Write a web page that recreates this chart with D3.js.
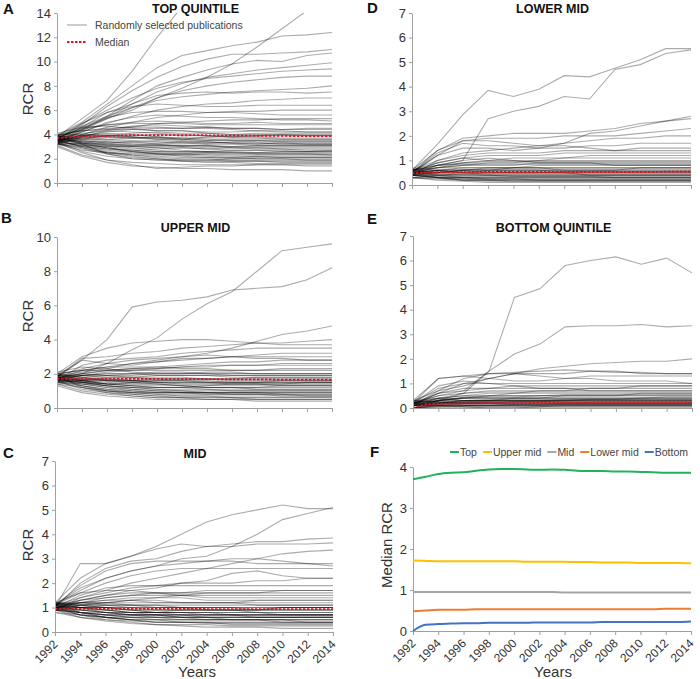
<!DOCTYPE html>
<html>
<head>
<meta charset="utf-8">
<script src="https://cdn.jsdelivr.net/npm/d3@7"></script>
<style>
  body { margin: 0; background: #fff; }
  svg { font-family: "Liberation Sans", Arial, sans-serif; }
</style>
</head>
<body>
<div id="chart"></div>
<script>
// years
let allYears = [1992, 1993, 1994, 1995, 1996, 1997, 1998, 1999, 2000, 2001, 2002, 2003, 2004, 2005, 2006, 2007, 2008, 2009, 2010, 2011, 2012, 2013, 2014];
let tickYears = [1992, 1994, 1996, 1998, 2000, 2002, 2004, 2006, 2008, 2010, 2012, 2014];

// medians (panel F and red dashed lines)
let medianTop = [3.70, 3.76, 3.83, 3.86, 3.87, 3.91, 3.94, 3.95, 3.95, 3.94, 3.93, 3.94, 3.93, 3.91, 3.90, 3.90, 3.89, 3.89, 3.88, 3.87, 3.86, 3.86, 3.86];
let medianUpper = [1.72, 1.71, 1.70, 1.70, 1.70, 1.70, 1.70, 1.70, 1.70, 1.69, 1.69, 1.69, 1.69, 1.68, 1.68, 1.67, 1.67, 1.67, 1.66, 1.66, 1.66, 1.66, 1.65];
let medianMid = [0.95, 0.95, 0.95, 0.95, 0.95, 0.95, 0.95, 0.95, 0.95, 0.95, 0.95, 0.95, 0.94, 0.94, 0.94, 0.94, 0.94, 0.94, 0.94, 0.94, 0.94, 0.94, 0.94];
let medianLower = [0.48, 0.50, 0.52, 0.52, 0.52, 0.53, 0.53, 0.53, 0.53, 0.53, 0.53, 0.53, 0.53, 0.53, 0.53, 0.53, 0.53, 0.53, 0.53, 0.53, 0.54, 0.54, 0.54];
let medianBottom = [0.00, 0.15, 0.17, 0.18, 0.19, 0.19, 0.20, 0.20, 0.20, 0.20, 0.21, 0.21, 0.21, 0.21, 0.21, 0.22, 0.22, 0.22, 0.22, 0.22, 0.22, 0.22, 0.23];

// randomly selected publications, values at tickYears
let topLines = [
  [3.8, 5.3, 6.8, 9.2, 12.0, 14.5, 16.0, 17.0, 18.0, 19.0, 20.0, 21.0],
  [3.7, 4.5, 5.3, 6.0, 7.0, 7.8, 8.7, 9.8, 11.2, 12.7, 14.2, 15.5],
  [3.9, 5.0, 6.5, 8.0, 9.5, 10.5, 10.9, 11.3, 11.6, 12.1, 12.2, 12.4],
  [3.6, 4.8, 6.3, 7.6, 8.7, 9.6, 10.2, 10.6, 10.6, 10.7, 10.8, 11.0],
  [3.4, 4.4, 5.5, 6.8, 8.0, 8.7, 9.3, 9.8, 10.1, 10.0, 10.5, 10.7],
  [3.5, 4.6, 5.8, 6.5, 7.5, 8.2, 8.7, 9.0, 9.3, 9.5, 9.7, 9.9],
  [3.6, 4.9, 6.0, 7.0, 7.8, 8.3, 8.6, 8.8, 9.0, 9.2, 9.3, 9.4],
  [3.3, 4.3, 5.3, 6.2, 7.0, 7.6, 8.0, 8.3, 8.5, 8.7, 8.8, 8.8],
  [3.7, 4.7, 5.5, 6.2, 6.8, 7.1, 7.3, 7.5, 7.6, 7.7, 7.8, 8.0],
  [3.5, 4.4, 5.4, 6.5, 7.2, 7.4, 7.5, 7.4, 7.5, 7.5, 7.4, 7.5],
  [3.4, 4.2, 4.9, 5.5, 6.0, 6.3, 6.5, 6.6, 6.8, 6.9, 7.0, 7.0],
  [3.8, 4.9, 5.8, 6.3, 6.5, 6.4, 6.3, 6.3, 6.4, 6.4, 6.4, 6.4],
  [3.3, 4.0, 4.6, 5.0, 5.4, 5.6, 5.8, 5.9, 5.9, 6.0, 6.0, 6.0],
  [3.6, 4.6, 5.4, 5.8, 5.9, 5.9, 5.8, 5.8, 5.7, 5.6, 5.6, 5.6],
  [3.2, 3.8, 4.3, 4.6, 4.9, 5.0, 5.1, 5.2, 5.2, 5.3, 5.3, 5.3],
  [3.7, 4.5, 4.8, 4.9, 4.9, 4.9, 4.8, 4.8, 4.8, 4.8, 4.8, 4.8],
  [3.4, 3.9, 4.2, 4.4, 4.5, 4.5, 4.6, 4.5, 4.5, 4.4, 4.5, 4.5],
  [3.9, 4.3, 4.4, 4.4, 4.3, 4.3, 4.2, 4.2, 4.3, 4.2, 4.2, 4.2],
  [3.5, 3.8, 3.9, 3.9, 4.0, 3.9, 3.9, 3.8, 3.9, 3.9, 3.9, 3.9],
  [3.7, 3.6, 3.6, 3.7, 3.6, 3.6, 3.5, 3.6, 3.6, 3.6, 3.6, 3.6],
  [3.6, 3.4, 3.4, 3.3, 3.3, 3.4, 3.3, 3.3, 3.2, 3.3, 3.3, 3.3],
  [3.3, 3.1, 3.0, 3.0, 3.1, 3.1, 3.1, 3.0, 3.1, 3.1, 3.1, 3.1],
  [3.8, 3.4, 3.1, 3.0, 2.9, 2.9, 2.8, 2.9, 2.9, 2.9, 2.9, 2.9],
  [3.5, 3.0, 2.8, 2.7, 2.6, 2.6, 2.6, 2.6, 2.5, 2.6, 2.6, 2.6],
  [3.2, 2.7, 2.5, 2.4, 2.3, 2.3, 2.4, 2.3, 2.3, 2.3, 2.3, 2.3],
  [3.6, 2.9, 2.5, 2.3, 2.2, 2.1, 2.1, 2.1, 2.2, 2.1, 2.1, 2.1],
  [3.4, 2.6, 2.2, 2.0, 1.9, 1.8, 1.8, 1.8, 1.8, 1.8, 1.8, 1.8],
  [3.1, 2.3, 1.9, 1.7, 1.6, 1.5, 1.5, 1.5, 1.5, 1.5, 1.5, 1.5],
  [3.3, 2.5, 1.9, 1.5, 1.2, 1.3, 1.4, 1.4, 1.5, 1.5, 1.4, 1.4],
  [3.0, 2.2, 1.7, 1.4, 1.3, 1.2, 1.2, 1.1, 1.1, 1.1, 1.0, 1.0],
  [3.9, 3.5, 3.3, 3.4, 3.2, 3.0, 3.1, 2.9, 2.8, 2.8, 2.7, 2.7],
  [3.4, 3.2, 2.9, 2.6, 2.5, 2.4, 2.5, 2.5, 2.4, 2.4, 2.4, 2.4],
  [4.1, 4.6, 4.7, 4.5, 4.3, 4.3, 4.1, 4.0, 4.0, 4.0, 3.9, 3.9],
  [3.6, 3.9, 4.1, 4.0, 3.8, 3.6, 3.5, 3.5, 3.4, 3.4, 3.4, 3.4],
  [3.3, 3.7, 3.8, 3.7, 3.7, 3.6, 3.8, 3.9, 3.9, 4.0, 4.0, 4.0],
  [3.7, 3.3, 3.0, 2.8, 2.8, 2.9, 2.8, 2.7, 2.7, 2.7, 2.6, 2.6],
  [3.5, 4.2, 5.0, 5.4, 5.6, 5.5, 5.4, 5.4, 5.3, 5.2, 5.2, 5.1],
  [3.8, 3.2, 2.4, 2.0, 1.9, 1.9, 1.9, 2.0, 2.0, 2.0, 2.0, 2.0],
  [3.2, 2.9, 2.5, 2.2, 2.0, 1.8, 1.7, 1.7, 1.6, 1.6, 1.6, 1.6],
  [3.6, 4.0, 4.4, 4.7, 4.8, 4.7, 4.6, 4.5, 4.5, 4.4, 4.4, 4.4],
  [3.5, 3.7, 3.5, 3.4, 3.5, 3.4, 3.4, 3.3, 3.3, 3.3, 3.2, 3.2],
  [3.8, 3.9, 3.8, 3.7, 3.8, 3.7, 3.7, 3.7, 3.7, 3.6, 3.6, 3.6],
  [3.2, 3.0, 2.7, 2.5, 2.4, 2.4, 2.3, 2.2, 2.2, 2.2, 2.2, 2.2],
  [3.6, 3.2, 2.9, 2.7, 2.6, 2.5, 2.5, 2.4, 2.4, 2.4, 2.4, 2.3],
  [4.0, 4.3, 4.5, 4.6, 4.6, 4.5, 4.5, 4.4, 4.3, 4.3, 4.2, 4.2],
  [3.4, 3.5, 3.3, 3.1, 3.0, 3.0, 2.9, 2.9, 2.9, 2.8, 2.8, 2.8],
  [3.7, 4.1, 4.3, 4.2, 4.1, 4.0, 3.9, 3.8, 3.8, 3.7, 3.7, 3.7],
  [3.3, 2.8, 2.4, 2.1, 2.0, 1.9, 1.9, 1.8, 1.8, 1.7, 1.7, 1.7],
  [3.9, 3.6, 3.4, 3.2, 3.1, 3.1, 3.0, 3.0, 3.0, 3.0, 3.0, 3.0],
  [3.5, 3.0, 2.6, 2.3, 2.1, 2.0, 2.0, 1.9, 1.9, 1.9, 1.9, 1.9],
  [3.6, 3.8, 3.6, 3.5, 3.4, 3.3, 3.2, 3.2, 3.1, 3.1, 3.1, 3.1],
  [3.8, 4.4, 4.8, 5.0, 5.1, 5.0, 4.9, 4.9, 5.0, 4.9, 4.9, 4.9],
  [3.2, 3.3, 3.2, 3.0, 2.9, 2.7, 2.6, 2.5, 2.5, 2.5, 2.5, 2.5],
  [3.7, 3.4, 3.2, 3.1, 3.2, 3.3, 3.3, 3.4, 3.5, 3.5, 3.5, 3.5],
  [3.4, 3.1, 2.8, 2.6, 2.4, 2.3, 2.2, 2.1, 2.0, 2.0, 1.9, 1.9],
  [4.0, 4.0, 3.9, 3.8, 3.7, 3.7, 3.6, 3.5, 3.5, 3.4, 3.4, 3.4],
  [3.6, 3.3, 3.1, 2.9, 2.7, 2.6, 2.6, 2.7, 2.7, 2.6, 2.6, 2.7],
  [3.3, 3.6, 3.9, 4.1, 4.2, 4.1, 4.1, 4.0, 4.1, 4.1, 4.1, 4.1],
  [3.9, 3.3, 2.9, 2.6, 2.4, 2.2, 2.1, 2.0, 2.1, 2.1, 2.1, 2.1],
  [3.5, 3.9, 4.0, 3.8, 3.6, 3.5, 3.4, 3.3, 3.3, 3.2, 3.2, 3.2]
];

let upperLines = [
  [1.8, 2.8, 4.0, 5.9, 6.2, 6.3, 6.5, 6.9, 7.0, 7.1, 7.5, 8.2],
  [1.7, 2.0, 2.6, 3.4, 4.1, 5.2, 6.1, 6.8, 8.0, 9.2, 9.4, 9.6],
  [1.9, 2.3, 2.6, 2.8, 2.9, 3.0, 3.2, 3.5, 3.9, 4.3, 4.5, 4.8],
  [2.0, 3.0, 3.5, 3.8, 3.9, 4.0, 4.0, 3.9, 3.8, 3.8, 3.9, 4.0],
  [1.8, 2.9, 3.0, 3.2, 3.3, 3.5, 3.6, 3.7, 3.8, 3.7, 3.7, 3.7],
  [1.6, 2.5, 2.8, 2.9, 3.0, 3.2, 3.3, 3.4, 3.5, 3.5, 3.5, 3.5],
  [1.9, 2.8, 2.6, 2.5, 2.7, 2.8, 2.9, 3.0, 3.1, 3.2, 3.2, 3.2],
  [1.7, 2.2, 2.4, 2.6, 2.7, 2.9, 2.9, 3.0, 3.0, 3.0, 3.0, 3.0],
  [1.8, 2.0, 2.2, 2.3, 2.4, 2.5, 2.6, 2.7, 2.7, 2.8, 2.8, 2.8],
  [1.6, 1.9, 2.1, 2.2, 2.3, 2.4, 2.4, 2.5, 2.5, 2.5, 2.5, 2.5],
  [2.0, 2.2, 2.2, 2.2, 2.2, 2.2, 2.2, 2.2, 2.2, 2.3, 2.3, 2.3],
  [1.7, 1.9, 2.0, 2.0, 2.0, 2.0, 2.0, 2.0, 2.0, 2.0, 2.0, 2.0],
  [1.9, 1.9, 1.8, 1.8, 1.9, 1.9, 1.9, 1.8, 1.8, 1.8, 1.8, 1.8],
  [1.5, 1.6, 1.7, 1.7, 1.7, 1.7, 1.7, 1.7, 1.7, 1.7, 1.7, 1.7],
  [1.8, 1.7, 1.6, 1.6, 1.5, 1.5, 1.5, 1.5, 1.5, 1.5, 1.5, 1.5],
  [1.6, 1.5, 1.4, 1.4, 1.4, 1.3, 1.3, 1.3, 1.3, 1.3, 1.3, 1.3],
  [2.0, 1.6, 1.4, 1.3, 1.2, 1.2, 1.2, 1.2, 1.1, 1.1, 1.1, 1.1],
  [1.7, 1.4, 1.2, 1.1, 1.0, 1.0, 1.0, 1.0, 1.0, 1.0, 1.0, 1.0],
  [1.5, 1.2, 1.0, 0.9, 0.9, 0.9, 0.9, 0.9, 0.9, 0.9, 0.9, 0.9],
  [1.8, 1.3, 1.0, 0.9, 0.8, 0.8, 0.8, 0.8, 0.8, 0.8, 0.8, 0.8],
  [1.6, 1.1, 0.9, 0.8, 0.7, 0.7, 0.7, 0.7, 0.7, 0.7, 0.7, 0.7],
  [1.4, 1.0, 0.8, 0.7, 0.6, 0.6, 0.6, 0.6, 0.6, 0.6, 0.6, 0.6],
  [1.9, 1.2, 0.9, 0.7, 0.6, 0.6, 0.5, 0.5, 0.5, 0.5, 0.5, 0.5],
  [1.3, 0.9, 0.7, 0.6, 0.5, 0.5, 0.5, 0.5, 0.4, 0.4, 0.4, 0.4],
  [1.7, 1.8, 1.9, 2.0, 2.1, 2.1, 2.0, 1.9, 1.9, 1.9, 1.9, 1.9],
  [1.9, 2.1, 2.3, 2.6, 2.8, 3.0, 3.1, 3.0, 2.9, 2.9, 2.8, 2.8],
  [1.8, 1.6, 1.4, 1.5, 1.6, 1.6, 1.6, 1.5, 1.5, 1.6, 1.6, 1.6],
  [1.6, 1.5, 1.3, 1.1, 1.0, 0.9, 0.9, 0.8, 0.8, 0.7, 0.7, 0.7],
  [2.1, 2.4, 2.3, 2.1, 2.0, 2.0, 2.1, 2.1, 2.0, 2.0, 2.0, 2.0],
  [1.7, 1.5, 1.3, 1.2, 1.2, 1.2, 1.3, 1.4, 1.4, 1.4, 1.4, 1.4],
  [1.7, 1.6, 1.5, 1.4, 1.4, 1.4, 1.4, 1.4, 1.4, 1.3, 1.3, 1.3],
  [1.8, 1.5, 1.3, 1.2, 1.1, 1.1, 1.1, 1.0, 1.0, 1.0, 1.0, 1.0],
  [1.6, 1.7, 1.8, 1.8, 1.8, 1.8, 1.7, 1.7, 1.7, 1.7, 1.7, 1.7],
  [1.9, 1.8, 1.7, 1.6, 1.6, 1.6, 1.5, 1.5, 1.5, 1.5, 1.5, 1.5],
  [1.5, 1.3, 1.1, 1.0, 0.9, 0.9, 0.8, 0.8, 0.8, 0.8, 0.7, 0.7],
  [1.7, 1.9, 2.0, 2.0, 1.9, 1.9, 1.9, 1.9, 1.9, 1.9, 1.9, 1.9],
  [2.0, 1.8, 1.6, 1.5, 1.4, 1.3, 1.2, 1.2, 1.2, 1.2, 1.2, 1.2],
  [1.6, 1.3, 1.1, 0.9, 0.8, 0.7, 0.7, 0.6, 0.6, 0.6, 0.6, 0.6],
  [1.8, 2.0, 2.2, 2.3, 2.3, 2.4, 2.5, 2.5, 2.5, 2.6, 2.6, 2.6],
  [1.7, 1.5, 1.4, 1.3, 1.2, 1.2, 1.1, 1.1, 1.1, 1.1, 1.1, 1.1],
  [1.9, 1.7, 1.6, 1.6, 1.7, 1.7, 1.7, 1.6, 1.6, 1.6, 1.6, 1.6],
  [1.5, 1.4, 1.3, 1.2, 1.1, 1.0, 0.9, 0.9, 0.9, 0.8, 0.8, 0.8],
  [1.8, 1.9, 1.9, 1.9, 2.0, 2.0, 2.0, 2.0, 2.0, 2.0, 2.0, 2.0],
  [1.6, 1.4, 1.2, 1.0, 0.9, 0.9, 0.9, 0.9, 0.9, 0.9, 0.9, 0.9],
  [2.0, 2.2, 2.4, 2.4, 2.4, 2.3, 2.3, 2.2, 2.2, 2.2, 2.2, 2.2],
  [1.7, 1.6, 1.6, 1.5, 1.5, 1.4, 1.4, 1.4, 1.4, 1.4, 1.4, 1.4],
  [1.4, 1.2, 1.0, 0.8, 0.7, 0.6, 0.6, 0.6, 0.5, 0.5, 0.5, 0.5],
  [1.8, 1.6, 1.4, 1.3, 1.3, 1.3, 1.2, 1.2, 1.2, 1.3, 1.3, 1.3],
  [1.9, 2.0, 1.9, 1.8, 1.7, 1.7, 1.7, 1.7, 1.8, 1.8, 1.8, 1.8],
  [1.6, 1.7, 1.7, 1.6, 1.5, 1.5, 1.5, 1.4, 1.4, 1.4, 1.5, 1.5]
];

let midLines = [
  [1.0, 2.8, 2.8, 3.1, 3.5, 4.0, 4.5, 4.8, 5.0, 5.2, 5.05, 5.05],
  [1.1, 1.8, 2.2, 2.5, 2.7, 3.0, 3.1, 3.5, 4.0, 4.6, 4.85, 5.1],
  [1.0, 2.0, 2.6, 2.9, 3.0, 3.3, 3.5, 3.6, 3.7, 3.7, 3.8, 3.85],
  [1.2, 2.2, 2.8, 3.1, 3.4, 3.6, 3.5, 3.5, 3.6, 3.6, 3.6, 3.65],
  [0.9, 1.4, 1.7, 2.0, 2.2, 2.4, 2.6, 2.8, 3.0, 3.2, 3.3, 3.35],
  [1.1, 1.9, 2.5, 2.8, 2.9, 2.9, 2.9, 2.9, 2.8, 2.8, 2.8, 2.8],
  [1.0, 1.3, 1.5, 1.7, 1.8, 2.0, 2.1, 2.4, 2.5, 2.3, 2.2, 2.2],
  [1.1, 1.6, 2.0, 2.3, 2.5, 2.6, 2.6, 2.6, 2.6, 2.6, 2.6, 2.6],
  [1.0, 1.5, 1.8, 1.9, 1.9, 1.9, 1.9, 1.9, 1.9, 1.9, 1.9, 1.9],
  [0.9, 1.3, 1.5, 1.6, 1.6, 1.6, 1.7, 1.7, 1.7, 1.7, 1.7, 1.7],
  [1.2, 1.6, 1.7, 1.7, 1.6, 1.5, 1.5, 1.5, 1.5, 1.5, 1.5, 1.5],
  [1.0, 1.2, 1.3, 1.4, 1.4, 1.4, 1.3, 1.3, 1.3, 1.3, 1.3, 1.3],
  [1.1, 1.2, 1.2, 1.2, 1.2, 1.2, 1.2, 1.2, 1.2, 1.2, 1.2, 1.2],
  [0.9, 1.0, 1.1, 1.1, 1.1, 1.1, 1.1, 1.1, 1.1, 1.1, 1.1, 1.1],
  [1.0, 1.0, 1.0, 1.0, 1.0, 1.0, 1.0, 1.0, 1.0, 1.0, 1.0, 1.0],
  [1.2, 1.0, 0.9, 0.9, 0.9, 0.9, 0.9, 0.9, 0.9, 0.9, 0.9, 0.9],
  [1.0, 0.9, 0.8, 0.8, 0.8, 0.8, 0.8, 0.8, 0.8, 0.8, 0.8, 0.8],
  [0.9, 0.8, 0.7, 0.7, 0.7, 0.7, 0.7, 0.7, 0.7, 0.7, 0.7, 0.7],
  [1.1, 0.8, 0.7, 0.6, 0.6, 0.6, 0.6, 0.6, 0.6, 0.6, 0.6, 0.6],
  [1.0, 0.7, 0.6, 0.5, 0.5, 0.5, 0.5, 0.5, 0.5, 0.5, 0.5, 0.5],
  [0.8, 0.6, 0.5, 0.45, 0.4, 0.4, 0.4, 0.4, 0.4, 0.4, 0.4, 0.4],
  [1.2, 0.8, 0.6, 0.5, 0.4, 0.4, 0.35, 0.35, 0.35, 0.35, 0.35, 0.35],
  [0.9, 0.6, 0.45, 0.35, 0.3, 0.3, 0.3, 0.25, 0.25, 0.25, 0.25, 0.25],
  [1.0, 0.7, 0.5, 0.4, 0.3, 0.25, 0.2, 0.2, 0.2, 0.15, 0.15, 0.15],
  [1.1, 1.4, 1.6, 1.8, 1.9, 2.0, 2.0, 2.0, 2.1, 2.1, 2.2, 2.2],
  [1.0, 1.1, 1.2, 1.3, 1.4, 1.5, 1.6, 1.6, 1.6, 1.7, 1.7, 1.7],
  [1.2, 1.1, 1.0, 0.9, 0.8, 0.8, 0.8, 0.7, 0.7, 0.7, 0.7, 0.7],
  [0.9, 1.1, 1.2, 1.1, 1.0, 1.0, 1.0, 1.0, 0.9, 1.0, 1.0, 1.0],
  [1.1, 1.7, 2.2, 2.5, 2.7, 2.8, 2.9, 3.0, 3.0, 2.9, 2.8, 2.7],
  [1.0, 1.0, 0.9, 0.8, 0.7, 0.6, 0.6, 0.5, 0.5, 0.5, 0.5, 0.5],
  [1.0, 0.9, 0.9, 0.8, 0.8, 0.8, 0.7, 0.7, 0.7, 0.7, 0.7, 0.7],
  [1.1, 1.0, 1.0, 0.9, 0.9, 0.9, 0.9, 0.9, 0.8, 0.8, 0.8, 0.8],
  [0.9, 0.8, 0.7, 0.6, 0.6, 0.5, 0.5, 0.5, 0.5, 0.4, 0.4, 0.4],
  [1.2, 1.2, 1.1, 1.1, 1.1, 1.0, 1.0, 1.0, 1.0, 1.0, 1.0, 1.0],
  [1.0, 1.2, 1.3, 1.3, 1.3, 1.2, 1.2, 1.2, 1.1, 1.1, 1.1, 1.1],
  [0.9, 0.7, 0.6, 0.6, 0.5, 0.5, 0.5, 0.5, 0.5, 0.5, 0.5, 0.5],
  [1.1, 0.9, 0.8, 0.7, 0.7, 0.7, 0.6, 0.6, 0.6, 0.6, 0.6, 0.6],
  [1.0, 1.1, 1.1, 1.0, 1.0, 1.0, 0.9, 0.9, 0.9, 0.9, 0.9, 0.9],
  [1.2, 1.0, 0.8, 0.7, 0.6, 0.6, 0.5, 0.5, 0.5, 0.5, 0.4, 0.4],
  [0.8, 0.7, 0.6, 0.5, 0.4, 0.4, 0.4, 0.3, 0.3, 0.3, 0.3, 0.3],
  [1.1, 1.3, 1.4, 1.5, 1.5, 1.5, 1.4, 1.4, 1.4, 1.4, 1.4, 1.4],
  [1.0, 0.8, 0.7, 0.7, 0.7, 0.6, 0.6, 0.6, 0.6, 0.6, 0.6, 0.6],
  [0.9, 1.0, 1.0, 1.0, 0.9, 0.9, 0.9, 0.9, 0.9, 0.9, 0.9, 0.9],
  [1.1, 1.0, 0.9, 0.8, 0.8, 0.8, 0.8, 0.8, 0.8, 0.7, 0.7, 0.7],
  [1.0, 1.2, 1.4, 1.5, 1.6, 1.6, 1.6, 1.6, 1.6, 1.6, 1.6, 1.6],
  [1.2, 1.1, 1.0, 0.9, 0.8, 0.7, 0.7, 0.7, 0.6, 0.6, 0.6, 0.6],
  [0.9, 0.9, 0.8, 0.8, 0.8, 0.9, 0.9, 0.9, 0.9, 1.0, 1.0, 1.0],
  [1.0, 0.8, 0.6, 0.5, 0.5, 0.4, 0.4, 0.4, 0.4, 0.4, 0.4, 0.4],
  [1.1, 1.2, 1.2, 1.3, 1.2, 1.2, 1.2, 1.2, 1.3, 1.3, 1.3, 1.3],
  [0.9, 0.8, 0.8, 0.7, 0.7, 0.7, 0.7, 0.7, 0.7, 0.7, 0.7, 0.7]
];

let lowerLines = [
  [0.6, 1.65, 2.85, 3.85, 3.6, 3.9, 4.45, 4.4, 4.75, 5.1, 5.55, 5.55],
  [0.5, 0.8, 1.0, 2.7, 3.0, 3.2, 3.6, 3.5, 4.7, 4.9, 5.35, 5.5],
  [0.5, 1.3, 1.7, 1.6, 1.6, 1.5, 1.7, 2.1, 2.2, 2.4, 2.6, 2.8],
  [0.6, 1.4, 1.9, 2.0, 2.1, 2.1, 2.1, 2.2, 2.3, 2.5, 2.6, 2.7],
  [0.5, 1.2, 1.8, 1.9, 1.9, 1.9, 2.0, 2.0, 2.0, 2.1, 2.2, 2.3],
  [0.4, 1.0, 1.3, 1.4, 1.5, 1.6, 1.7, 1.8, 1.9, 1.9, 2.0, 2.0],
  [0.5, 1.2, 1.5, 1.5, 1.4, 1.5, 1.5, 1.6, 1.6, 1.7, 1.7, 1.7],
  [0.6, 1.0, 1.2, 1.3, 1.3, 1.3, 1.4, 1.4, 1.4, 1.5, 1.5, 1.5],
  [0.5, 0.9, 1.1, 1.2, 1.2, 1.2, 1.3, 1.3, 1.3, 1.3, 1.3, 1.3],
  [0.4, 0.8, 0.9, 1.0, 1.1, 1.1, 1.1, 1.2, 1.2, 1.2, 1.2, 1.2],
  [0.5, 0.7, 0.8, 0.9, 0.9, 1.0, 1.0, 1.0, 1.0, 1.0, 1.0, 1.0],
  [0.6, 0.7, 0.8, 0.8, 0.8, 0.9, 0.9, 0.9, 0.9, 0.9, 0.9, 0.9],
  [0.5, 0.6, 0.7, 0.7, 0.7, 0.8, 0.8, 0.8, 0.8, 0.8, 0.8, 0.8],
  [0.4, 0.6, 0.6, 0.7, 0.7, 0.7, 0.7, 0.7, 0.7, 0.7, 0.7, 0.7],
  [0.5, 0.5, 0.6, 0.6, 0.6, 0.6, 0.6, 0.6, 0.6, 0.6, 0.6, 0.6],
  [0.6, 0.5, 0.5, 0.5, 0.5, 0.5, 0.5, 0.5, 0.5, 0.5, 0.5, 0.5],
  [0.4, 0.4, 0.4, 0.4, 0.4, 0.4, 0.4, 0.4, 0.4, 0.4, 0.4, 0.4],
  [0.5, 0.4, 0.35, 0.35, 0.35, 0.35, 0.35, 0.35, 0.3, 0.3, 0.3, 0.3],
  [0.3, 0.3, 0.3, 0.25, 0.25, 0.25, 0.25, 0.25, 0.25, 0.25, 0.25, 0.25],
  [0.4, 0.3, 0.25, 0.2, 0.2, 0.2, 0.2, 0.2, 0.2, 0.2, 0.2, 0.2],
  [0.5, 0.3, 0.2, 0.2, 0.15, 0.15, 0.15, 0.15, 0.15, 0.15, 0.15, 0.15],
  [0.3, 0.2, 0.15, 0.1, 0.1, 0.1, 0.1, 0.1, 0.1, 0.1, 0.1, 0.1],
  [0.6, 0.8, 1.0, 1.1, 1.0, 0.9, 0.9, 0.9, 0.8, 0.8, 0.8, 0.8],
  [0.5, 0.6, 0.5, 0.6, 0.7, 0.7, 0.6, 0.6, 0.6, 0.7, 0.7, 0.7],
  [0.4, 0.5, 0.6, 0.5, 0.5, 0.5, 0.5, 0.4, 0.4, 0.4, 0.4, 0.4],
  [0.6, 0.9, 1.1, 1.0, 1.0, 1.0, 1.1, 1.1, 1.1, 1.1, 1.1, 1.1],
  [0.5, 1.4, 1.8, 1.8, 1.7, 1.6, 1.6, 1.5, 1.4, 1.4, 1.4, 1.4],
  [0.4, 0.3, 0.3, 0.3, 0.3, 0.3, 0.3, 0.3, 0.3, 0.3, 0.3, 0.3],
  [0.5, 0.5, 0.5, 0.5, 0.5, 0.5, 0.5, 0.5, 0.5, 0.5, 0.5, 0.5],
  [0.6, 0.6, 0.6, 0.6, 0.6, 0.6, 0.6, 0.6, 0.6, 0.6, 0.6, 0.6],
  [0.4, 0.35, 0.3, 0.3, 0.3, 0.3, 0.3, 0.3, 0.3, 0.3, 0.3, 0.3],
  [0.5, 0.45, 0.4, 0.4, 0.4, 0.4, 0.4, 0.4, 0.4, 0.4, 0.4, 0.4],
  [0.6, 0.7, 0.7, 0.7, 0.7, 0.7, 0.7, 0.7, 0.7, 0.7, 0.7, 0.7],
  [0.3, 0.25, 0.2, 0.2, 0.2, 0.2, 0.2, 0.2, 0.2, 0.2, 0.2, 0.2],
  [0.5, 0.55, 0.55, 0.55, 0.55, 0.55, 0.55, 0.55, 0.55, 0.55, 0.55, 0.55],
  [0.7, 0.6, 0.5, 0.45, 0.45, 0.45, 0.45, 0.45, 0.45, 0.45, 0.45, 0.45],
  [0.4, 0.5, 0.6, 0.65, 0.65, 0.65, 0.65, 0.65, 0.65, 0.65, 0.65, 0.65],
  [0.5, 0.4, 0.3, 0.25, 0.25, 0.2, 0.2, 0.2, 0.2, 0.2, 0.2, 0.2],
  [0.6, 0.8, 0.85, 0.85, 0.85, 0.85, 0.85, 0.85, 0.85, 0.85, 0.85, 0.85],
  [0.4, 0.3, 0.2, 0.15, 0.15, 0.15, 0.15, 0.15, 0.15, 0.15, 0.15, 0.15],
  [0.5, 0.6, 0.65, 0.6, 0.6, 0.6, 0.55, 0.55, 0.55, 0.55, 0.55, 0.55],
  [0.6, 0.5, 0.45, 0.4, 0.35, 0.35, 0.35, 0.35, 0.35, 0.35, 0.35, 0.35],
  [0.3, 0.4, 0.45, 0.5, 0.5, 0.5, 0.5, 0.5, 0.5, 0.5, 0.5, 0.5],
  [0.5, 0.7, 0.9, 0.95, 0.95, 0.95, 0.95, 0.95, 0.95, 0.95, 0.95, 0.95]
];

let bottomLines = [
  [0.15, 0.6, 0.7, 1.5, 4.5, 4.85, 5.8, 6.0, 6.15, 5.85, 6.1, 5.5],
  [0.1, 0.3, 0.6, 1.5, 2.2, 2.6, 3.3, 3.35, 3.35, 3.4, 3.3, 3.35],
  [0.2, 0.6, 1.0, 1.2, 1.4, 1.6, 1.7, 1.8, 1.85, 1.9, 1.9, 2.0],
  [0.2, 1.2, 1.3, 1.4, 1.45, 1.5, 1.55, 1.5, 1.45, 1.45, 1.4, 1.4],
  [0.3, 1.2, 1.3, 1.2, 1.1, 1.1, 1.2, 1.3, 1.3, 1.3, 1.3, 1.3],
  [0.1, 0.7, 1.2, 1.4, 1.4, 1.3, 1.2, 1.2, 1.1, 1.1, 1.1, 1.0],
  [0.2, 0.8, 1.0, 1.0, 1.0, 1.0, 1.0, 1.0, 1.0, 1.0, 1.0, 1.0],
  [0.1, 0.6, 0.8, 0.8, 0.9, 0.9, 0.9, 0.9, 0.9, 0.9, 0.9, 0.9],
  [0.2, 0.5, 0.7, 0.8, 0.8, 0.8, 0.8, 0.8, 0.8, 0.8, 0.8, 0.8],
  [0.1, 0.4, 0.6, 0.7, 0.7, 0.7, 0.7, 0.7, 0.7, 0.7, 0.7, 0.7],
  [0.2, 0.4, 0.5, 0.6, 0.6, 0.6, 0.6, 0.6, 0.6, 0.6, 0.6, 0.6],
  [0.0, 0.3, 0.4, 0.5, 0.5, 0.5, 0.5, 0.5, 0.5, 0.5, 0.5, 0.5],
  [0.1, 0.3, 0.4, 0.4, 0.4, 0.4, 0.4, 0.4, 0.4, 0.4, 0.4, 0.4],
  [0.2, 0.3, 0.3, 0.3, 0.3, 0.3, 0.3, 0.3, 0.3, 0.3, 0.3, 0.3],
  [0.1, 0.2, 0.25, 0.25, 0.25, 0.25, 0.25, 0.25, 0.25, 0.25, 0.25, 0.25],
  [0.0, 0.15, 0.2, 0.2, 0.2, 0.2, 0.2, 0.2, 0.2, 0.2, 0.2, 0.2],
  [0.1, 0.1, 0.15, 0.15, 0.15, 0.15, 0.15, 0.15, 0.15, 0.15, 0.15, 0.15],
  [0.0, 0.1, 0.1, 0.1, 0.1, 0.1, 0.1, 0.1, 0.1, 0.1, 0.1, 0.1],
  [0.2, 0.1, 0.05, 0.05, 0.05, 0.05, 0.05, 0.05, 0.05, 0.05, 0.05, 0.05],
  [0.1, 0.05, 0.05, 0.0, 0.0, 0.0, 0.0, 0.0, 0.0, 0.0, 0.0, 0.0],
  [0.3, 0.7, 0.9, 1.2, 1.4, 1.4, 1.4, 1.5, 1.5, 1.4, 1.4, 1.4],
  [0.2, 0.4, 0.5, 0.5, 0.6, 0.7, 0.7, 0.8, 0.8, 0.9, 0.9, 0.9],
  [0.1, 0.2, 0.3, 0.3, 0.4, 0.4, 0.5, 0.5, 0.5, 0.6, 0.6, 0.6],
  [0.3, 0.4, 0.3, 0.3, 0.3, 0.3, 0.3, 0.35, 0.35, 0.35, 0.35, 0.35],
  [0.0, 0.05, 0.1, 0.1, 0.15, 0.15, 0.2, 0.2, 0.2, 0.2, 0.2, 0.2],
  [0.2, 0.9, 1.1, 1.0, 0.9, 0.8, 0.8, 0.7, 0.7, 0.7, 0.7, 0.7],
  [0.1, 0.15, 0.2, 0.2, 0.25, 0.25, 0.25, 0.25, 0.25, 0.25, 0.25, 0.25],
  [0.2, 0.2, 0.2, 0.2, 0.2, 0.2, 0.2, 0.2, 0.2, 0.2, 0.2, 0.2],
  [0.0, 0.05, 0.05, 0.05, 0.05, 0.05, 0.1, 0.1, 0.1, 0.1, 0.1, 0.1],
  [0.1, 0.2, 0.3, 0.35, 0.35, 0.35, 0.35, 0.35, 0.35, 0.35, 0.35, 0.35],
  [0.2, 0.3, 0.4, 0.4, 0.4, 0.4, 0.4, 0.4, 0.4, 0.4, 0.45, 0.45],
  [0.0, 0.1, 0.15, 0.15, 0.15, 0.15, 0.15, 0.15, 0.15, 0.15, 0.15, 0.15],
  [0.3, 0.25, 0.2, 0.2, 0.15, 0.15, 0.15, 0.15, 0.15, 0.15, 0.15, 0.15],
  [0.1, 0.3, 0.45, 0.5, 0.5, 0.5, 0.5, 0.5, 0.5, 0.5, 0.5, 0.5],
  [0.2, 0.15, 0.1, 0.1, 0.1, 0.1, 0.1, 0.1, 0.1, 0.1, 0.1, 0.1],
  [0.0, 0.0, 0.0, 0.0, 0.0, 0.05, 0.05, 0.05, 0.05, 0.05, 0.05, 0.05],
  [0.1, 0.25, 0.3, 0.3, 0.3, 0.3, 0.3, 0.3, 0.3, 0.3, 0.3, 0.3],
  [0.2, 0.35, 0.4, 0.45, 0.45, 0.5, 0.55, 0.55, 0.55, 0.55, 0.55, 0.55],
  [0.3, 0.2, 0.2, 0.25, 0.25, 0.25, 0.3, 0.3, 0.3, 0.3, 0.3, 0.3],
  [0.1, 0.1, 0.1, 0.1, 0.1, 0.1, 0.15, 0.15, 0.15, 0.15, 0.15, 0.15],
  [0.0, 0.2, 0.25, 0.3, 0.3, 0.3, 0.35, 0.35, 0.35, 0.4, 0.4, 0.4],
  [0.2, 0.5, 0.6, 0.65, 0.65, 0.65, 0.65, 0.65, 0.65, 0.65, 0.65, 0.65]
];

let seriesNames = ["Top", "Upper mid", "Mid", "Lower mid", "Bottom"];
let seriesColors = ["#21b25a", "#ffc000", "#a5a5a5", "#ed7d31", "#4472c4"];

let W = 700, H = 679;
let svg = d3.select("#chart").append("svg").attr("width", W).attr("height", H);

let font = "\"Liberation Sans\", Arial, sans-serif";
let axisGrey = "#a0a0a0";
let textGrey = "#333";

let panels = [
  { letter: "A", title: "TOP QUINTILE", lines: topLines, median: medianTop, yMax: 14, yStep: 2,
    x0: 57, x1: 332, yb: 183, yt: 13, lx: 3, ly: 14, ty: 13, rcrY: 99, labels: false },
  { letter: "B", title: "UPPER MID", lines: upperLines, median: medianUpper, yMax: 10, yStep: 2,
    x0: 57, x1: 332, yb: 408, yt: 237, lx: 1, ly: 223, ty: 232, rcrY: 316, labels: false },
  { letter: "C", title: "MID", lines: midLines, median: medianMid, yMax: 7, yStep: 1,
    x0: 55, x1: 333, yb: 632, yt: 461, lx: 3, ly: 458, ty: 458, rcrY: 545, labels: true },
  { letter: "D", title: "LOWER MID", lines: lowerLines, median: medianLower, yMax: 7, yStep: 1,
    x0: 412, x1: 691, yb: 185, yt: 13, lx: 367, ly: 13, ty: 13, rcrY: null, labels: false },
  { letter: "E", title: "BOTTOM QUINTILE", lines: bottomLines, median: medianBottom, yMax: 7, yStep: 1,
    x0: 413, x1: 692, yb: 408, yt: 236, lx: 367, ly: 224, ty: 232, rcrY: null, labels: false }
];

function styleAxis(g) {
  g.selectAll(".domain").attr("stroke", axisGrey).attr("stroke-width", 1);
  g.selectAll(".tick line").attr("stroke", axisGrey);
  g.selectAll(".tick text").attr("fill", textGrey).attr("font-family", font);
}

function drawAxes(p, x, y, labelsOn) {
  let yAxis = svg.append("g")
    .attr("transform", "translate(" + p.x0 + ",0)")
    .call(d3.axisLeft(y).tickValues(d3.range(0, p.yMax + 0.001, p.yStep))
      .tickFormat(d3.format("d")).tickSize(3).tickSizeOuter(0).tickPadding(3));
  yAxis.selectAll(".tick text").attr("font-size", 13);
  styleAxis(yAxis);

  let xAxis = svg.append("g")
    .attr("transform", "translate(0," + p.yb + ")")
    .call(d3.axisBottom(x).tickValues(tickYears).tickSize(4).tickSizeOuter(0)
      .tickFormat(labelsOn ? d3.format("d") : ""));
  styleAxis(xAxis);
  if (labelsOn) {
    xAxis.selectAll(".tick text")
      .attr("font-size", 12)
      .attr("text-anchor", "end")
      .attr("x", 0)
      .attr("y", 0)
      .attr("dy", 0)
      .attr("transform", "translate(3,13) rotate(-45)");
  }
}

panels.forEach((p, k) => {
  let x = d3.scaleLinear().domain([1992, 2014]).range([p.x0, p.x1]);
  let y = d3.scaleLinear().domain([0, p.yMax]).range([p.yb, p.yt]);

  let clipId = "clip" + k;
  svg.append("clipPath").attr("id", clipId)
    .append("rect").attr("x", p.x0).attr("y", p.yt).attr("width", p.x1 - p.x0 + 2).attr("height", p.yb - p.yt);

  let pubLine = d3.line().x((d, i) => x(tickYears[i])).y(d => y(d));
  let medLine = d3.line().x((d, i) => x(allYears[i])).y(d => y(d));

  let plot = svg.append("g").attr("clip-path", "url(#" + clipId + ")");
  plot.selectAll(".pub")
    .data(p.lines)
    .enter()
    .append("path")
    .attr("class", "pub")
    .attr("d", d => pubLine(d))
    .attr("fill", "none")
    .attr("stroke", "#000")
    .attr("stroke-opacity", 0.33)
    .attr("stroke-width", 1.1);

  plot.append("path")
    .attr("d", medLine(p.median))
    .attr("fill", "none")
    .attr("stroke", "#e3121b")
    .attr("stroke-width", 1.8)
    .attr("stroke-dasharray", "2.5,1.5");

  drawAxes(p, x, y, p.labels);

  svg.append("text").attr("x", p.lx).attr("y", p.ly).text(p.letter)
    .attr("font-family", font).attr("font-weight", "bold").attr("font-size", 15).attr("fill", "#111");
  svg.append("text").attr("x", (p.x0 + p.x1) / 2 + 1).attr("y", p.ty).text(p.title)
    .attr("text-anchor", "middle").attr("font-family", font).attr("font-weight", "bold")
    .attr("font-size", 12.5).attr("fill", "#111");

  if (p.rcrY !== null) {
    svg.append("text").attr("transform", "translate(33," + p.rcrY + ") rotate(-90)")
      .attr("text-anchor", "middle").text("RCR")
      .attr("font-family", font).attr("font-size", 15).attr("fill", textGrey);
  }
});

// legend in panel A
svg.append("line").attr("x1", 67).attr("x2", 87).attr("y1", 25).attr("y2", 25)
  .attr("stroke", "#999").attr("stroke-width", 1);
svg.append("text").attr("x", 95).attr("y", 28.5).text("Randomly selected publications")
  .attr("font-family", font).attr("font-size", 10.5).attr("fill", "#444");
svg.append("line").attr("x1", 67).attr("x2", 87).attr("y1", 42).attr("y2", 42)
  .attr("stroke", "#e3121b").attr("stroke-width", 1.8).attr("stroke-dasharray", "2.5,1.5");
svg.append("text").attr("x", 95).attr("y", 45.5).text("Median")
  .attr("font-family", font).attr("font-size", 10.5).attr("fill", "#444");

// "Years" label under C
svg.append("text").attr("x", 197).attr("y", 677).attr("text-anchor", "middle").text("Years")
  .attr("font-family", font).attr("font-size", 15).attr("fill", textGrey);

// panel F: medians
let pf = { x0: 413, x1: 691, yb: 631, yt: 467, yMax: 4, yStep: 1 };
let xF = d3.scaleLinear().domain([1992, 2014]).range([pf.x0, pf.x1]);
let yF = d3.scaleLinear().domain([0, pf.yMax]).range([pf.yb, pf.yt]);
let medians = [medianTop, medianUpper, medianMid, medianLower, medianBottom];

drawAxes(pf, xF, yF, true);

let fLine = d3.line().x((d, i) => xF(allYears[i])).y(d => yF(d)).curve(d3.curveMonotoneX);
svg.selectAll(".med")
  .data(medians)
  .enter()
  .append("path")
  .attr("class", "med")
  .attr("d", d => fLine(d))
  .attr("fill", "none")
  .attr("stroke", (d, i) => seriesColors[i])
  .attr("stroke-width", 2);

svg.append("text").attr("x", 370).attr("y", 457).text("F")
  .attr("font-family", font).attr("font-weight", "bold").attr("font-size", 15).attr("fill", "#111");
svg.append("text").attr("transform", "translate(392,545) rotate(-90)")
  .attr("text-anchor", "middle").text("Median RCR")
  .attr("font-family", font).attr("font-size", 15).attr("fill", textGrey);
svg.append("text").attr("x", 553).attr("y", 677).attr("text-anchor", "middle").text("Years")
  .attr("font-family", font).attr("font-size", 15).attr("fill", textGrey);

// legend of F
let lx = 450;
seriesNames.forEach((name, i) => {
  svg.append("line").attr("x1", lx).attr("x2", lx + 9).attr("y1", 452).attr("y2", 452)
    .attr("stroke", seriesColors[i]).attr("stroke-width", 2);
  let t = svg.append("text").attr("x", lx + 10).attr("y", 455.5).text(name)
    .attr("font-family", font).attr("font-size", 10.5).attr("fill", "#444");
  lx += 10 + t.node().getComputedTextLength() + 6;
});
</script>
</body>
</html>
